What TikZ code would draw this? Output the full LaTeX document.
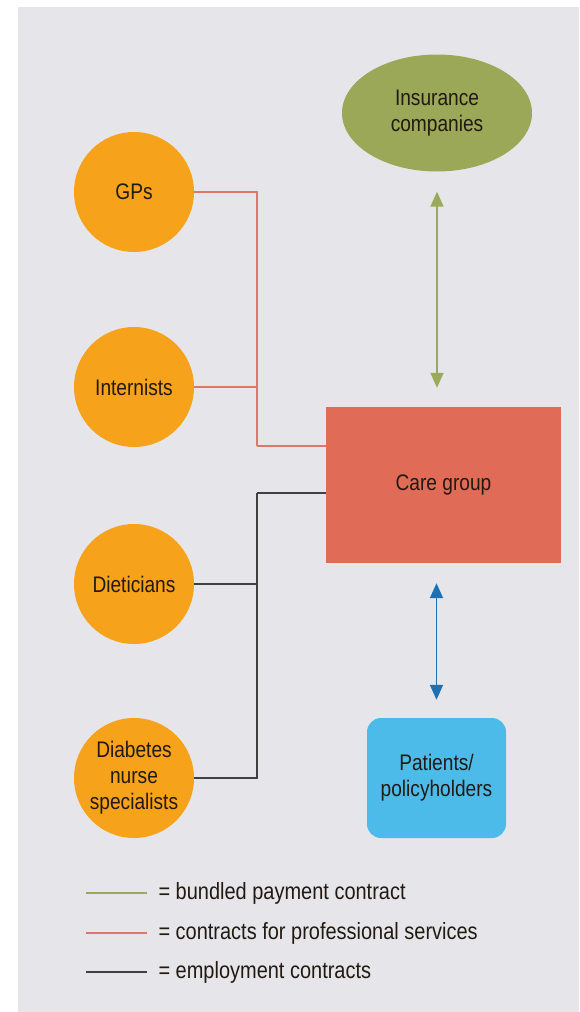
\documentclass[tikz,border=0pt]{standalone}
\usepackage{fontspec}
\setmainfont{Liberation Sans}[FakeStretch=0.85]
\usetikzlibrary{shapes.geometric,arrows.meta}
\definecolor{bggray}{HTML}{E6E6EA}
\definecolor{orangefill}{HTML}{F7A21B}
\definecolor{olivefill}{HTML}{9AA857}
\definecolor{carefill}{HTML}{E06B57}
\definecolor{patfill}{HTML}{4DBBEA}
\definecolor{bundleline}{HTML}{9AAA5A}
\definecolor{profline}{HTML}{E0766A}
\definecolor{emplline}{HTML}{404040}
\definecolor{patline}{HTML}{1F6FB5}
\definecolor{txt}{HTML}{221A12}
\begin{document}
\begin{tikzpicture}[x=1pt, y=-1pt,
  every node/.style={text=txt, font=\fontsize{22.5}{26}\selectfont, align=center},
  doc/.style={circle, fill=orangefill, minimum size=120pt, inner sep=0pt},
  bundled/.style={draw=bundleline, line width=1.6pt},
  prof/.style={draw=profline, line width=1.5pt},
  empl/.style={draw=emplline, line width=1.5pt},
  tip/.style={{Triangle[length=15pt,width=13pt]}-{Triangle[length=15pt,width=13pt]}}]
\useasboundingbox (0,0) rectangle (579,1012);
\fill[bggray] (18,7) rectangle (579,1012);
% nodes
\node[ellipse, fill=olivefill, minimum width=190pt, minimum height=117pt] (ins) at (437,113) {Insurance\\companies};
\node[rectangle, fill=carefill, minimum width=235pt, minimum height=156pt] (care) at (443.5,485) {Care group};
\node[rectangle, rounded corners=14pt, fill=patfill, minimum width=139pt, minimum height=120pt] (pat) at (436.5,778) {Patients/\\policyholders};
\node[doc] (gp) at (134,192) {GPs};
\node[doc] (int) at (134,387) {Internists};
\node[doc] (diet) at (134,584) {Dieticians};
\node[doc] (dns) at (134,778) {Diabetes\\nurse\\specialists};
% contracts
\coordinate (jprof) at (257,446);
\coordinate (jempl) at (257,493);
\draw[prof] (gp.east) -| (jprof);
\draw[prof] (int.east) -- (int.east -| jprof);
\draw[prof] (jprof) -- (jprof -| care.west);
\draw[empl] (dns.east) -| (jempl);
\draw[empl] (diet.east) -- (diet.east -| jempl);
\draw[empl] (jempl) -- (jempl -| care.west);
\draw[bundled, tip, shorten <=20pt, shorten >=19pt] (ins.south) -- (ins.south |- care.north);
\draw[draw=patline, line width=1.6pt, tip, fill=patline, shorten <=20pt, shorten >=18pt] (pat.north |- care.south) -- (pat.north);
% legend
\node[anchor=west, font=\fontsize{23.5}{27}\selectfont] (lbund) at (155,893) {= bundled payment contract};
\node[anchor=west, font=\fontsize{23.5}{27}\selectfont] (lprof) at (155,933) {= contracts for professional services};
\node[anchor=west, font=\fontsize{23.5}{27}\selectfont] (lempl) at (155,972) {= employment contracts};
\coordinate (k1) at (86,893);
\coordinate (k2) at (86,933);
\coordinate (k3) at (86,972);
\draw[bundled] (k1) -- (k1 -| 147,0);
\draw[prof] (k2) -- (k2 -| 147,0);
\draw[empl] (k3) -- (k3 -| 147,0);
\end{tikzpicture}
\end{document}
